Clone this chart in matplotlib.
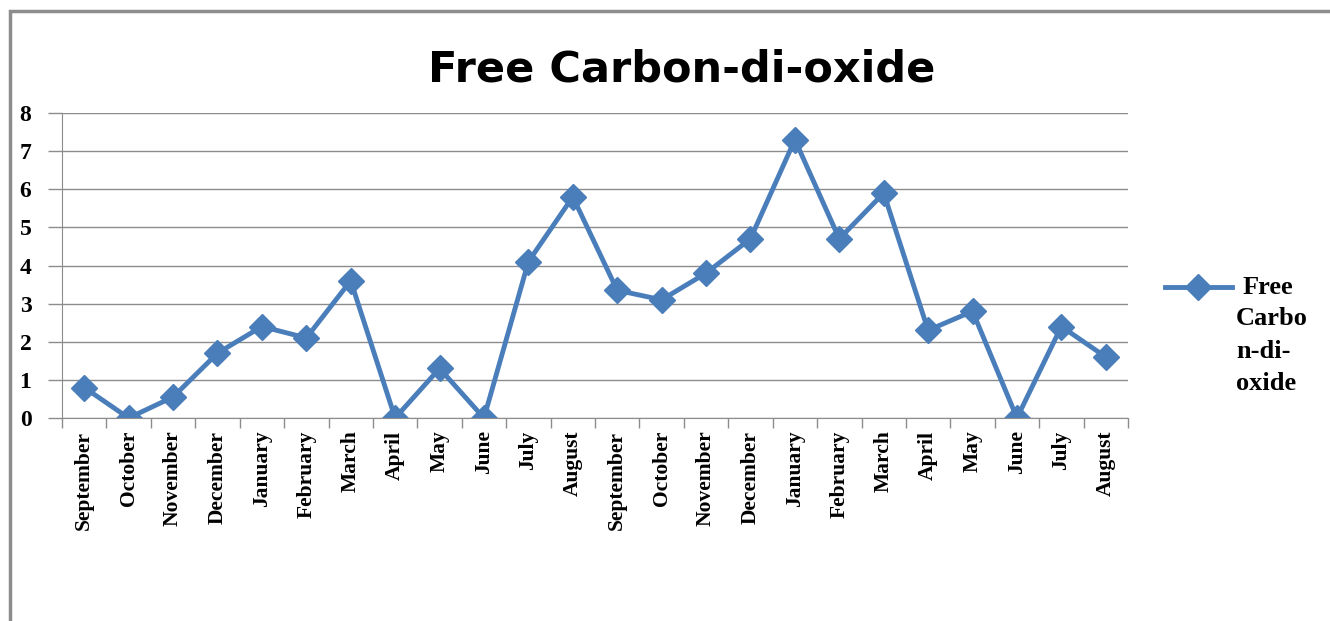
import matplotlib
matplotlib.use("Agg")
import matplotlib.pyplot as plt
from matplotlib.patches import Rectangle
from matplotlib.lines import Line2D

# months (two years of sampling)
months = ["September", "October", "November", "December", "January", "February",
          "March", "April", "May", "June", "July", "August",
          "September", "October", "November", "December", "January", "February",
          "March", "April", "May", "June", "July", "August"]
co2 = [0.8, 0.0, 0.55, 1.7, 2.4, 2.1, 3.6, 0.0, 1.3, 0.0, 4.1, 5.8,
       3.35, 3.1, 3.8, 4.7, 7.3, 4.7, 5.9, 2.3, 2.8, 0.0, 2.4, 1.6]
yticks = [0, 1, 2, 3, 4, 5, 6, 7, 8]
legend_lines = ["Free", "Carbo", "n-di-", "oxide"]

W, H = 1330, 621
fig = plt.figure(figsize=(W / 100, H / 100), dpi=100)
ax = fig.add_axes([62 / W, 1 - 418 / H, (1128 - 62) / W, (418 - 113) / H])

blue = "#4a7ebb"
grid = "#8c8c8c"
serif = "Liberation Serif"

x = list(range(len(months)))
ax.plot(x, co2, color=blue, lw=3.5, marker="D", markersize=13)

ax.set_xlim(-0.5, len(months) - 0.5)
ax.set_ylim(0, 8)
ax.set_yticks(yticks)
ax.set_yticklabels([str(v) for v in yticks], fontfamily=serif, fontweight="bold", fontsize=17)
ax.tick_params(axis="y", length=10, color=grid, width=1, pad=12)
ax.set_xticks(x)
ax.set_xticklabels(months, rotation=90, fontfamily=serif, fontweight="bold", fontsize=15.5)
ax.tick_params(axis="x", length=0, pad=9)
# category boundary ticks
ax.set_xticks([i - 0.5 for i in range(len(months) + 1)], minor=True)
ax.tick_params(axis="x", which="minor", length=7, color=grid, width=1)

ax.grid(axis="y", color=grid, lw=1)
ax.set_axisbelow(True)
for s in ["top", "right"]:
    ax.spines[s].set_visible(False)
for s in ["left", "bottom"]:
    ax.spines[s].set_color(grid)

fig.text(682 / W, 1 - 81 / H, "Free Carbon-di-oxide", fontsize=31, fontweight="bold",
         fontfamily="DejaVu Sans", ha="center", va="baseline")

# legend: handle next to the first line, label wrapped over four lines
fig.add_artist(Line2D([1165 / W, 1232 / W], [1 - 287 / H] * 2, color=blue, lw=3.5))
fig.add_artist(Line2D([1198 / W], [1 - 287 / H], color=blue, marker="D", markersize=13))
for i, t in enumerate(legend_lines):
    fig.text((1243 if i == 0 else 1236) / W, 1 - (287 + 32 * i) / H, t,
             fontfamily=serif, fontweight="bold", fontsize=19, ha="left", va="center")

# outer chart frame (cropped on right and bottom)
fig.add_artist(Rectangle((10 / W, -0.1), 1.2, 1 - 11 / H + 0.1, transform=fig.transFigure,
                         fill=False, edgecolor="#8c8c8c", lw=2.5))

fig.savefig("out.png", dpi=100)
